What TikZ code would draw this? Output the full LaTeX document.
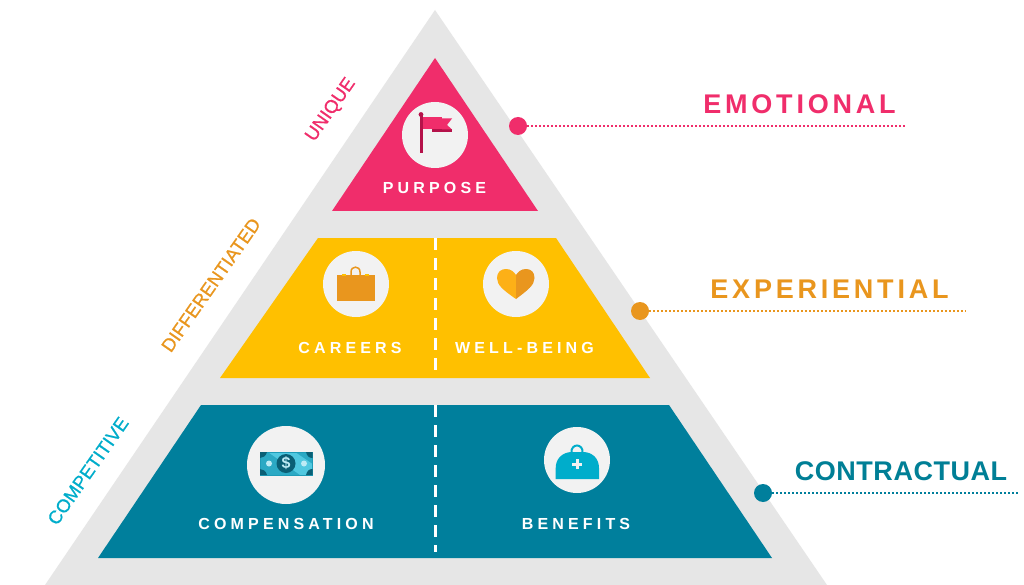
\documentclass[tikz,border=0pt]{standalone}
\usepackage{fontspec}
\setmainfont{Liberation Sans}
\newfontfamily\spA[LetterSpace=26]{Liberation Sans}
\newfontfamily\spB[LetterSpace=14]{Liberation Sans}
\newfontfamily\spD[LetterSpace=2]{Liberation Sans}
\newfontfamily\spC[FakeBold=0.7,LetterSpace=0.5]{Liberation Sans}
\definecolor{pinkc}{HTML}{F02D6B}
\definecolor{pinkd}{HTML}{B5124A}
\definecolor{yelc}{HTML}{FFC000}
\definecolor{tealc}{HTML}{007F9C}
\definecolor{orgc}{HTML}{E9961E}
\definecolor{grayc}{HTML}{E6E6E6}
\definecolor{circc}{HTML}{F2F2F2}
\definecolor{cyanc}{HTML}{00ADCB}
\definecolor{tealt}{HTML}{007F96}
\definecolor{heartl}{HTML}{FDB017}
\definecolor{billa}{HTML}{2BA9C4}
\definecolor{billb}{HTML}{50C8E0}
\definecolor{billd}{HTML}{0A5F75}
\definecolor{billl}{HTML}{BDEBF5}
\tikzset{
 icircle/.style={circle,fill=circc,draw=none,inner sep=0pt},
 tier/.style={font=\spA\bfseries\fontsize{16}{16}\selectfont,text=white,inner sep=0pt},
 head/.style={font=\spB\bfseries\fontsize{27}{27}\selectfont,inner sep=0pt},
 headb/.style={font=\spD\bfseries\fontsize{27}{27}\selectfont,inner sep=0pt},
 side/.style={font=\spC\fontsize{18.5}{18.5}\selectfont,inner sep=0pt},
 ddot/.style={circle,inner sep=0pt,minimum size=18pt},
 leader/.style={line width=2.8pt,dash pattern=on 2pt off 2pt},
 split/.style={white,line width=3pt,dash pattern=on 12pt off 8pt},
}
\begin{document}
\begin{tikzpicture}[x=1pt,y=-1pt]
\useasboundingbox (0,0) rectangle (1024,585);
\clip (0,0) rectangle (1024,585);
\fill[white] (0,0) rectangle (1024,585);
% pyramid
\fill[grayc] (435,10) -- (827,585) -- (45,585) -- cycle;
\fill[pinkc] (435,58) -- (538,211) -- (332,211) -- cycle;
\fill[yelc] (318,238) -- (556,238) -- (650,378) -- (220,378) -- cycle;
\fill[tealc] (201,405) -- (669,405) -- (772,558) -- (98,558) -- cycle;
\coordinate (s1) at (435,238); \coordinate (e1) at (435,376);
\coordinate (s2) at (435,405); \coordinate (e2) at (435,552);
\draw[split] (s1) -- (e1);
\draw[split] (s2) -- (e2);
% circles
\node[icircle,minimum size=66pt] (cp) at (435,135) {};
\node[icircle,minimum size=66pt] (cc) at (356,284) {};
\node[icircle,minimum size=66pt] (cw) at (516,284) {};
\node[icircle,minimum size=78pt] (cm) at (286,465) {};
\node[icircle,minimum size=66pt] (cb) at (577,460) {};
% flag
\fill[pinkd] (432,129) rectangle (452,132);
\fill[pinkc] (442,118.5) -- (452,118.5) -- (447,125) -- (452,129.5) -- (442,129.5) -- cycle;
\fill[pinkc] (423,116.7) rectangle (442,129.5);
\fill[pinkd] (419.5,114) rectangle (422.5,153);
\fill[pinkd] (421,114.5) circle (2.4);
% case
\draw[orgc,line width=1.5pt] (351,276) -- (351,272) .. controls (351,265.5) and (360,265.5) .. (360,272) -- (360,276);
\fill[orgc] (336.5,274.5) rectangle (375,301);
\fill[yelc] (342,273.5) rectangle (346,275.5);
\fill[yelc] (365,273.5) rectangle (369,275.5);
% heart
\fill[heartl] (516,299) .. controls (503,290) and (497,285) .. (497,278) .. controls (497,272) and (501,269) .. (506,269) .. controls (511,269) and (514,272) .. (516,275) -- cycle;
\fill[orgc] (516,299) .. controls (528,290) and (534.5,285) .. (534.5,278) .. controls (534.5,272) and (531,269) .. (526,269) .. controls (521,269) and (518,272) .. (516,275) -- cycle;
% money
\fill[billa] (260,452) rectangle (312.5,475);
\fill[billb] (268,452) -- (295,452) -- (312.5,464) -- (312.5,475) -- (300,475) -- cycle;
\draw[billa!70!tealc,line width=.7pt] (260,452) rectangle (312.5,475);
\fill[billd] (260,452) -- (267,452) .. controls (266,456) and (263,458) .. (260,458) -- cycle;
\fill[billd] (260,475) -- (267,475) .. controls (266,471) and (263,469) .. (260,469) -- cycle;
\fill[billd] (312.5,452) -- (306,452) .. controls (307,456) and (309,458) .. (312.5,458) -- cycle;
\fill[billd] (312.5,475) -- (306,475) .. controls (307,471) and (309,469) .. (312.5,469) -- cycle;
\fill[billd] (286,463.5) circle (9.5);
\fill[billl] (269,463.5) circle (3);
\fill[billl] (304,463.5) circle (3);
\node[inner sep=0pt,text=billl,font=\bfseries\fontsize{16}{16}\selectfont] (dol) at (286,463.5) {\$};
% bag
\draw[cyanc,line width=2pt] (571.5,453) .. controls (570.5,443) and (583.5,443) .. (582.5,453);
\fill[cyanc] (555.7,479) -- (555.7,468) .. controls (555.7,458) and (563,452.5) .. (571,452) -- (584,452) .. controls (592,452.5) and (599,458) .. (599,468) -- (599,479) -- cycle;
\fill[circc] (575.5,459) rectangle (578.5,469);
\fill[circc] (572,462.5) rectangle (582,465.5);
% tier labels
\node[tier] (lp) at (434.5,188) {PURPOSE};
\node[tier] (lc) at (350,348) {CAREERS};
\node[tier] (lw) at (524.5,348) {WELL-BEING};
\node[tier] (lm) at (286,524) {COMPENSATION};
\node[tier] (lb) at (576,524) {BENEFITS};
% side labels
\node[side,text=pinkc,rotate=55] (su) at (331,110) {UNIQUE};
\node[side,text=orgc,rotate=55] (sd) at (211,285) {DIFFERENTIATED};
\node[side,text=cyanc,rotate=55] (sc) at (88,471) {COMPETITIVE};
% heads
\node[head,text=pinkc] (h1) at (799.5,104) {EMOTIONAL};
\node[head,text=orgc] (h2) at (829.5,289) {EXPERIENTIAL};
\node[headb,text=tealt] (h3) at (901,471) {CONTRACTUAL};
% leaders
\node[ddot,fill=pinkc] (d1) at (518,126) {};
\node[ddot,fill=orgc] (d2) at (640,311) {};
\node[ddot,fill=tealc] (d3) at (763,493) {};
\coordinate (t1) at (905,126); \coordinate (t2) at (966,311); \coordinate (t3) at (1018,493);
\draw[leader,pinkc] (d1) -- (t1);
\draw[leader,orgc] (d2) -- (t2);
\draw[leader,tealc] (d3) -- (t3);
\end{tikzpicture}
\end{document}
